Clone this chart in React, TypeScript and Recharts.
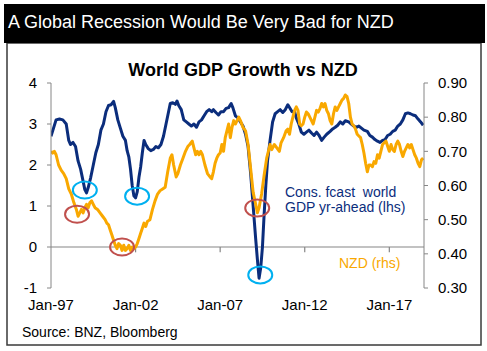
import React from 'react';
import { LineChart, Line, XAxis, YAxis, ReferenceLine, ReferenceDot } from 'recharts';

// decimal year, consensus world GDP forecast (%, lhs)
const gdpSeries: [number, number][] = [
  [1997.0, 2.7], [1997.15, 2.9], [1997.3, 3.1], [1997.5, 3.12], [1997.7, 3.1], [1997.9, 3.0],
  [1998.05, 2.6], [1998.15, 2.5], [1998.3, 2.55], [1998.45, 2.45], [1998.6, 2.1], [1998.75, 1.9],
  [1998.9, 1.6], [1999.0, 1.4], [1999.1, 1.32], [1999.2, 1.45], [1999.35, 1.7], [1999.5, 2.0],
  [1999.65, 2.3], [1999.8, 2.5], [1999.95, 2.85], [2000.1, 3.0], [2000.25, 3.3], [2000.4, 3.45],
  [2000.55, 3.47], [2000.7, 3.55], [2000.8, 3.4], [2000.95, 3.1], [2001.1, 2.9], [2001.25, 2.7],
  [2001.4, 2.6], [2001.5, 2.35], [2001.6, 2.2], [2001.7, 1.9], [2001.8, 1.5], [2001.9, 1.25],
  [2002.0, 1.2], [2002.1, 1.35], [2002.2, 1.7], [2002.3, 1.95], [2002.4, 2.3], [2002.5, 2.6],
  [2002.6, 2.5], [2002.75, 2.4], [2002.9, 2.35], [2003.05, 2.38], [2003.2, 2.45], [2003.35, 2.42],
  [2003.5, 2.5], [2003.65, 2.7], [2003.8, 3.0], [2003.95, 3.3], [2004.05, 3.5], [2004.2, 3.52],
  [2004.35, 3.48], [2004.45, 3.56], [2004.55, 3.45], [2004.7, 3.35], [2004.85, 3.1], [2005.0, 3.05],
  [2005.15, 3.0], [2005.3, 2.95], [2005.45, 3.0], [2005.6, 2.92], [2005.75, 3.05], [2005.9, 3.1],
  [2006.05, 3.2], [2006.2, 3.3], [2006.35, 3.35], [2006.5, 3.3], [2006.6, 3.35], [2006.75, 3.28],
  [2006.9, 3.22], [2007.05, 3.3], [2007.2, 3.3], [2007.35, 3.38], [2007.5, 3.4], [2007.65, 3.5],
  [2007.75, 3.4], [2007.9, 3.2], [2008.05, 3.15], [2008.2, 3.05], [2008.35, 2.95], [2008.5, 2.75],
  [2008.65, 2.45], [2008.8, 1.8], [2008.95, 1.0], [2009.1, 0.2], [2009.2, -0.3], [2009.3, -0.76],
  [2009.4, -0.5], [2009.5, 0.0], [2009.6, 0.8], [2009.7, 1.5], [2009.8, 2.1], [2009.95, 2.6],
  [2010.1, 3.05], [2010.25, 3.25], [2010.4, 3.3], [2010.55, 3.35], [2010.7, 3.28], [2010.85, 3.35],
  [2011.0, 3.47], [2011.1, 3.4], [2011.25, 3.3], [2011.4, 3.3], [2011.5, 3.15], [2011.65, 3.0],
  [2011.8, 2.8], [2011.95, 2.75], [2012.1, 2.8], [2012.25, 2.85], [2012.4, 2.78], [2012.55, 2.72],
  [2012.7, 2.8], [2012.85, 2.72], [2013.0, 2.6], [2013.15, 2.68], [2013.3, 2.75], [2013.5, 2.82],
  [2013.65, 2.88], [2013.8, 2.92], [2013.95, 2.97], [2014.1, 3.05], [2014.25, 3.0], [2014.4, 3.08],
  [2014.6, 3.05], [2014.75, 3.0], [2014.9, 2.95], [2015.05, 2.92], [2015.2, 2.95], [2015.35, 2.9],
  [2015.5, 2.85], [2015.7, 2.82], [2015.85, 2.72], [2016.0, 2.68], [2016.15, 2.62], [2016.3, 2.58],
  [2016.45, 2.55], [2016.6, 2.6], [2016.75, 2.62], [2016.9, 2.72], [2017.05, 2.75], [2017.2, 2.82],
  [2017.35, 2.85], [2017.5, 2.95], [2017.65, 3.0], [2017.8, 3.1], [2017.95, 3.25], [2018.1, 3.27],
  [2018.25, 3.25], [2018.4, 3.22], [2018.55, 3.2], [2018.7, 3.12], [2018.85, 3.05], [2019.0, 2.97],
];

// decimal year, NZD/USD (rhs)
const nzdSeries: [number, number][] = [
  [1997.0, 0.7], [1997.1, 0.695], [1997.2, 0.7], [1997.3, 0.69], [1997.45, 0.66], [1997.6, 0.645],
  [1997.75, 0.635], [1997.9, 0.62], [1998.05, 0.59], [1998.2, 0.575], [1998.35, 0.55], [1998.5, 0.53],
  [1998.6, 0.51], [1998.7, 0.52], [1998.8, 0.53], [1998.9, 0.52], [1999.0, 0.535], [1999.1, 0.545],
  [1999.2, 0.535], [1999.3, 0.55], [1999.4, 0.555], [1999.5, 0.545], [1999.6, 0.535], [1999.75, 0.53],
  [1999.9, 0.52], [2000.05, 0.51], [2000.2, 0.5], [2000.3, 0.49], [2000.4, 0.485], [2000.5, 0.47],
  [2000.6, 0.455], [2000.7, 0.44], [2000.8, 0.425], [2000.9, 0.415], [2001.0, 0.43], [2001.1, 0.425],
  [2001.2, 0.41], [2001.3, 0.425], [2001.4, 0.41], [2001.5, 0.415], [2001.6, 0.425], [2001.7, 0.41],
  [2001.8, 0.42], [2001.9, 0.415], [2002.0, 0.42], [2002.1, 0.43], [2002.2, 0.445], [2002.3, 0.46],
  [2002.4, 0.475], [2002.5, 0.49], [2002.6, 0.48], [2002.7, 0.495], [2002.85, 0.5], [2003.0, 0.53],
  [2003.15, 0.555], [2003.3, 0.575], [2003.45, 0.585], [2003.6, 0.59], [2003.75, 0.595], [2003.9, 0.64],
  [2004.05, 0.68], [2004.15, 0.69], [2004.25, 0.66], [2004.4, 0.625], [2004.5, 0.635], [2004.65, 0.66],
  [2004.8, 0.68], [2004.95, 0.7], [2005.1, 0.715], [2005.2, 0.72], [2005.35, 0.73], [2005.45, 0.71],
  [2005.55, 0.69], [2005.65, 0.7], [2005.75, 0.69], [2005.85, 0.7], [2005.95, 0.69], [2006.1, 0.66],
  [2006.25, 0.635], [2006.4, 0.625], [2006.5, 0.62], [2006.6, 0.64], [2006.7, 0.665], [2006.8, 0.68],
  [2006.9, 0.69], [2007.0, 0.695], [2007.1, 0.72], [2007.2, 0.7], [2007.3, 0.74], [2007.4, 0.76],
  [2007.5, 0.78], [2007.6, 0.74], [2007.7, 0.77], [2007.8, 0.79], [2007.9, 0.78], [2008.0, 0.79],
  [2008.1, 0.8], [2008.2, 0.79], [2008.35, 0.77], [2008.5, 0.76], [2008.65, 0.72], [2008.8, 0.65],
  [2008.95, 0.58], [2009.1, 0.545], [2009.2, 0.52], [2009.3, 0.535], [2009.45, 0.575], [2009.6, 0.63],
  [2009.75, 0.68], [2009.85, 0.7], [2009.95, 0.72], [2010.05, 0.705], [2010.2, 0.72], [2010.35, 0.71],
  [2010.5, 0.7], [2010.6, 0.725], [2010.75, 0.74], [2010.9, 0.76], [2011.0, 0.765], [2011.1, 0.75],
  [2011.2, 0.78], [2011.3, 0.8], [2011.4, 0.82], [2011.5, 0.83], [2011.6, 0.82], [2011.7, 0.78],
  [2011.8, 0.775], [2011.9, 0.78], [2012.0, 0.8], [2012.1, 0.815], [2012.2, 0.81], [2012.3, 0.8],
  [2012.4, 0.79], [2012.5, 0.78], [2012.6, 0.8], [2012.7, 0.82], [2012.8, 0.815], [2012.9, 0.825],
  [2013.0, 0.84], [2013.1, 0.83], [2013.2, 0.84], [2013.3, 0.82], [2013.4, 0.81], [2013.5, 0.79],
  [2013.6, 0.78], [2013.7, 0.81], [2013.8, 0.83], [2013.9, 0.82], [2014.0, 0.83], [2014.1, 0.84],
  [2014.2, 0.85], [2014.3, 0.855], [2014.4, 0.865], [2014.5, 0.86], [2014.6, 0.84], [2014.7, 0.8],
  [2014.8, 0.78], [2014.9, 0.775], [2015.0, 0.765], [2015.1, 0.75], [2015.2, 0.745], [2015.3, 0.74],
  [2015.4, 0.72], [2015.5, 0.695], [2015.6, 0.665], [2015.7, 0.64], [2015.8, 0.66], [2015.9, 0.66],
  [2016.0, 0.655], [2016.1, 0.67], [2016.2, 0.665], [2016.3, 0.69], [2016.4, 0.68], [2016.5, 0.7],
  [2016.6, 0.72], [2016.7, 0.725], [2016.8, 0.73], [2016.9, 0.715], [2017.0, 0.7], [2017.1, 0.72],
  [2017.2, 0.705], [2017.3, 0.7], [2017.4, 0.72], [2017.5, 0.73], [2017.6, 0.72], [2017.7, 0.7],
  [2017.8, 0.685], [2017.9, 0.7], [2018.0, 0.71], [2018.1, 0.72], [2018.2, 0.71], [2018.3, 0.72],
  [2018.4, 0.705], [2018.5, 0.69], [2018.6, 0.68], [2018.7, 0.665], [2018.8, 0.655], [2018.9, 0.675],
  [2019.0, 0.68],
];

const yearTicks = [1997, 2002, 2007, 2012, 2017];
const gdpTicks = [-1, 0, 1, 2, 3, 4];
const nzdTicks = [0.3, 0.4, 0.5, 0.6, 0.7, 0.8, 0.9];

// highlighted troughs, in (year, lhs value)
const gdpTroughs: [number, number][] = [[1999.0, 1.39], [2002.09, 1.24], [2009.37, -0.68]];
const nzdTroughs: [number, number][] = [[1998.54, 0.8], [2001.2, 0.0], [2009.19, 0.95]];

const NAVY = '#0b2d7c';
const ORANGE = '#f9a800';
const AXIS = '#868686';
const FONT = 'Arial, "Liberation Sans", sans-serif';

const gdpData = gdpSeries.map(([t, v]) => ({ t, gdp: v }));
const nzdData = nzdSeries.map(([t, v]) => ({ t, nzd: v }));

const monthLabel = (t: number) => `Jan-${String(t).slice(2)}`;

const ellipse = (color: string) => (props: any) => (
  <ellipse cx={props.cx} cy={props.cy} rx={12} ry={8.5} fill="none" stroke={color} strokeWidth={2} />
);

export default function App() {
  return (
    <div style={{ position: 'absolute', left: 0, top: 0, width: 487, height: 351, background: '#fff', fontFamily: FONT }}>
      <svg width={487} height={351} style={{ position: 'absolute', left: 0, top: 0 }}>
        <rect x={7} y={43} width={474} height={302} fill="#fff" stroke="#3a3a3a" strokeWidth={1.5} />
        <rect x={4} y={4} width={481} height={39} fill="#000" />
        <text x={8} y={28} fill="#fff" fontSize={18} fontFamily={FONT}>A Global Recession Would Be Very Bad for NZD</text>
        <text x={243} y={76} textAnchor="middle" fontSize={18} fontWeight="bold" fontFamily={FONT}>World GDP Growth vs NZD</text>
        <text x={22} y={337} fontSize={14} fontFamily={FONT}>Source: BNZ, Bloomberg</text>
        <text x={285} y={197} fill={NAVY} fontSize={14} fontFamily={FONT} style={{ whiteSpace: 'pre' }}>Cons. fcast  world</text>
        <text x={285} y={212} fill={NAVY} fontSize={14} fontFamily={FONT}>GDP yr-ahead (lhs)</text>
        <text x={339} y={268} fill={ORANGE} fontSize={14} fontFamily={FONT}>NZD (rhs)</text>
      </svg>
      <div style={{ position: 'absolute', left: 0, top: 0 }}>
        <LineChart width={487} height={351} margin={{ top: 83, right: 13, bottom: 33, left: 21 }}>
          <XAxis
            dataKey="t"
            type="number"
            domain={[1997, 2019.05]}
            ticks={yearTicks}
            tickFormatter={monthLabel}
            axisLine={false}
            tickLine={false}
            tickSize={6}
            tickMargin={5}
            height={30}
            tick={{ fill: '#000', fontSize: 15, fontFamily: FONT }}
            allowDataOverflow
          />
          <YAxis
            yAxisId="left"
            domain={[-1, 4]}
            ticks={gdpTicks}
            width={30}
            tickSize={4}
            tickMargin={10}
            stroke={AXIS}
            tick={{ fill: '#000', fontSize: 15, fontFamily: FONT }}
            allowDataOverflow
          />
          <YAxis
            yAxisId="right"
            orientation="right"
            domain={[0.3, 0.9]}
            ticks={nzdTicks}
            tickFormatter={(v: number) => v.toFixed(2)}
            width={50}
            tickSize={4}
            tickMargin={10}
            stroke={AXIS}
            tick={{ fill: '#000', fontSize: 15, fontFamily: FONT, textAnchor: 'start' }}
            allowDataOverflow
          />
          <ReferenceLine yAxisId="left" y={0} stroke={AXIS} strokeWidth={1.2} />
          {yearTicks.slice(1).map((yr) => (
            <ReferenceLine
              key={yr}
              yAxisId="left"
              segment={[{ x: yr, y: 0 }, { x: yr, y: -0.13 }]}
              stroke={AXIS}
              strokeWidth={1.2}
            />
          ))}
          <Line
            yAxisId="left"
            data={gdpData}
            dataKey="gdp"
            type="linear"
            stroke={NAVY}
            strokeWidth={3}
            dot={false}
            strokeLinejoin="round"
            isAnimationActive={false}
          />
          <Line
            yAxisId="right"
            data={nzdData}
            dataKey="nzd"
            type="linear"
            stroke={ORANGE}
            strokeWidth={3}
            dot={false}
            strokeLinejoin="round"
            isAnimationActive={false}
          />
          {gdpTroughs.map(([t, v]) => (
            <ReferenceDot key={`g${t}`} yAxisId="left" x={t} y={v} r={10} shape={ellipse('#00b0f0')} />
          ))}
          {nzdTroughs.map(([t, v]) => (
            <ReferenceDot key={`n${t}`} yAxisId="left" x={t} y={v} r={10} shape={ellipse('#c0504d')} />
          ))}
        </LineChart>
      </div>
    </div>
  );
}
